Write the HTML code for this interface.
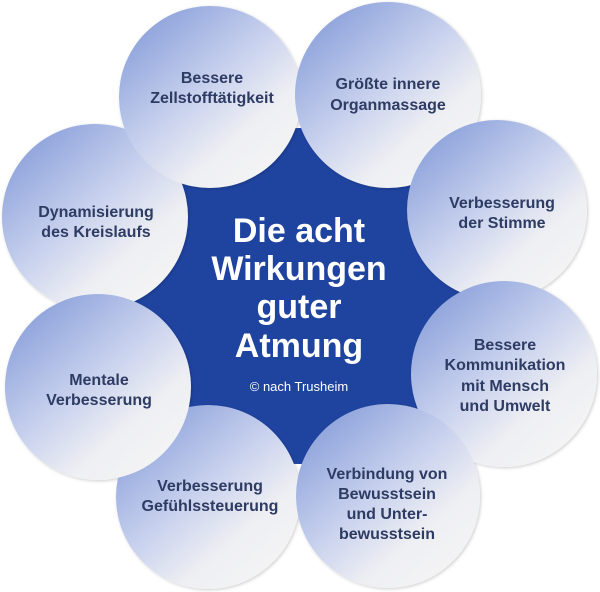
<!DOCTYPE html>
<html><head><meta charset="utf-8"><style>
html,body{margin:0;padding:0;background:#fff;width:600px;height:592px;overflow:hidden}
svg{display:block}
.t{font-family:"Liberation Sans",sans-serif;font-weight:bold;font-size:16px;fill:#2e3b63;text-anchor:middle}
.h{font-family:"Liberation Sans",sans-serif;font-weight:bold;font-size:34px;fill:#fff;text-anchor:middle}
</style></head><body>
<svg width="600" height="592" viewBox="0 0 600 592" xmlns="http://www.w3.org/2000/svg">
<defs>
<linearGradient id="g" x1="0.15" y1="0.1" x2="0.85" y2="0.9">
<stop offset="0" stop-color="#8fa4dc"/>
<stop offset="0.45" stop-color="#c9d2ee"/>
<stop offset="0.75" stop-color="#eeeff3"/>
<stop offset="1" stop-color="#f4f4f4"/>
</linearGradient>
<filter id="s" x="-10%" y="-10%" width="120%" height="120%">
<feDropShadow dx="1" dy="1" stdDeviation="1.5" flood-color="#000" flood-opacity="0.2"/>
</filter>
</defs>
<circle cx="300" cy="296" r="168" fill="#1f44a0"/>
<g fill="url(#g)" filter="url(#s)">
<circle cx="95" cy="217" r="93"/>
<circle cx="210" cy="97" r="91"/>
<circle cx="388" cy="95" r="93"/>
<circle cx="497" cy="210" r="90"/>
<circle cx="504" cy="374" r="93"/>
<circle cx="208" cy="497" r="92"/>
<circle cx="388" cy="496" r="92"/>
<circle cx="98" cy="387" r="93"/>
</g>
<text class="t" x="212" y="83">Bessere</text>
<text class="t" x="212" y="103">Zellstofftätigkeit</text>
<text class="t" x="388" y="89">Größte innere</text>
<text class="t" x="388" y="110">Organmassage</text>
<text class="t" x="502" y="208">Verbesserung</text>
<text class="t" x="502" y="228">der Stimme</text>
<text class="t" x="96" y="217">Dynamisierung</text>
<text class="t" x="96" y="237">des Kreislaufs</text>
<text class="t" x="99" y="385">Mentale</text>
<text class="t" x="99" y="405">Verbesserung</text>
<text class="t" x="505" y="350">Bessere</text>
<text class="t" x="505" y="370">Kommunikation</text>
<text class="t" x="505" y="391">mit Mensch</text>
<text class="t" x="505" y="411">und Umwelt</text>
<text class="t" x="210" y="491">Verbesserung</text>
<text class="t" x="210" y="511">Gefühlssteuerung</text>
<text class="t" x="387" y="479">Verbindung von</text>
<text class="t" x="387" y="499">Bewusstsein</text>
<text class="t" x="387" y="519">und Unter-</text>
<text class="t" x="387" y="539">bewusstsein</text>
<text class="h" x="299" y="242">Die acht</text>
<text class="h" x="299" y="280">Wirkungen</text>
<text class="h" x="299" y="318">guter</text>
<text class="h" x="299" y="357">Atmung</text>
<text x="299" y="391" font-family="Liberation Sans,sans-serif" font-size="13" fill="#fff" text-anchor="middle">© nach Trusheim</text>
</svg>
</body></html>
